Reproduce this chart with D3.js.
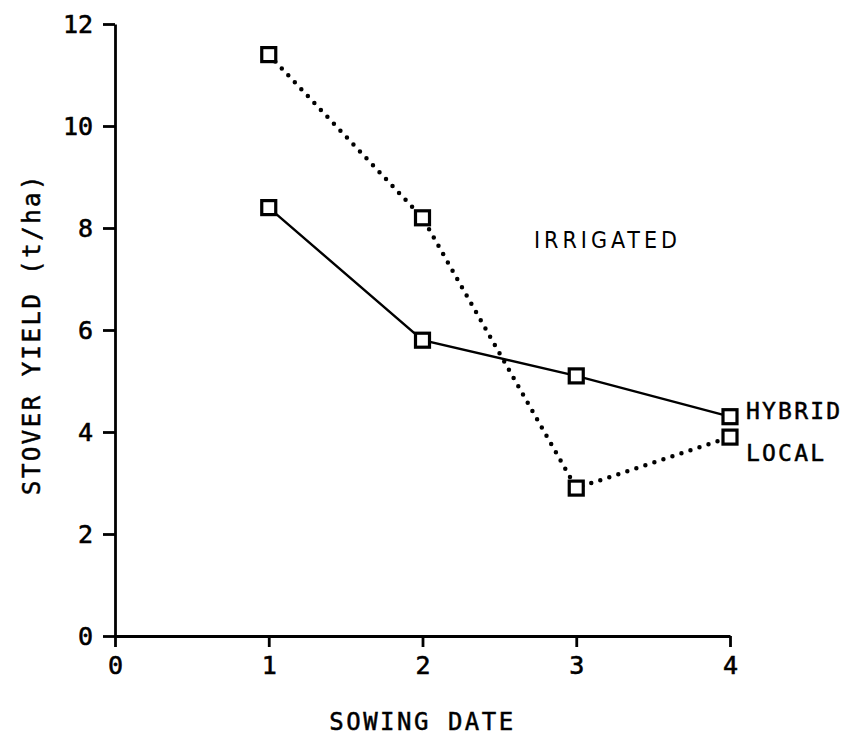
<!DOCTYPE html>
<html>
<head>
<meta charset="utf-8">
<script src="https://cdn.jsdelivr.net/npm/d3@7"></script>
<style>
  html, body { margin: 0; padding: 0; background: #fff; }
  svg text { font-family: "DejaVu Sans Mono", monospace; fill: #000; }
</style>
</head>
<body>
<svg id="chart" width="855" height="739"></svg>
<script>
// Sowing dates and stover yield (t/ha) under irrigation
const sowingDates = [1, 2, 3, 4];
const hybridYield = [8.4, 5.8, 5.1, 4.3];
const localYield  = [11.4, 8.2, 2.9, 3.9];
const xTicks = [0, 1, 2, 3, 4];
const yTicks = [0, 2, 4, 6, 8, 10, 12];

const svg = d3.select("#chart");
const x = d3.scaleLinear().domain([0, 4]).range([115, 730]);
const y = d3.scaleLinear().domain([0, 12]).range([636, 24]);

// axes
const yAxis = svg.append("g")
  .attr("transform", `translate(${x(0)},0)`)
  .call(d3.axisLeft(y).tickValues(yTicks).tickFormat(d3.format("d"))
    .tickSize(12).tickSizeOuter(0).tickPadding(10));
const xAxis = svg.append("g")
  .attr("transform", `translate(0,${y(0)})`)
  .call(d3.axisBottom(x).tickValues(xTicks).tickFormat(d3.format("d"))
    .tickSize(11).tickSizeOuter(0).tickPadding(6));

[yAxis, xAxis].forEach(g => {
  g.select(".domain").attr("stroke", "#000").attr("stroke-width", 2.8);
  g.selectAll(".tick line").attr("stroke", "#000").attr("stroke-width", 2.8);
  g.selectAll(".tick text")
    .style("font-family", "'DejaVu Sans Mono', monospace")
    .style("font-size", "25px")
    .attr("fill", "#000")
    .attr("stroke", "#000").attr("stroke-width", 0.6);
});
xAxis.selectAll(".tick text").attr("dy", "0.85em");

// axis titles
svg.append("text")
  .attr("x", x(2)).attr("y", 730)
  .attr("text-anchor", "middle")
  .style("font-size", "24px").style("letter-spacing", "2.5px")
  .attr("stroke", "#000").attr("stroke-width", 0.5)
  .text("SOWING DATE");

svg.append("text")
  .attr("transform", `translate(40,${334}) rotate(-90)`)
  .attr("text-anchor", "middle")
  .style("font-size", "24px").style("letter-spacing", "2.5px")
  .attr("stroke", "#000").attr("stroke-width", 0.5)
  .text("STOVER YIELD (t/ha)");

// series lines
const line = d3.line().x((d, i) => x(sowingDates[i])).y(d => y(d));

svg.append("path")
  .datum(hybridYield)
  .attr("d", line)
  .attr("fill", "none").attr("stroke", "#000").attr("stroke-width", 2.4);

svg.append("path")
  .datum(localYield)
  .attr("d", line)
  .attr("fill", "none").attr("stroke", "#000").attr("stroke-width", 4.5)
  .attr("stroke-linecap", "round").attr("stroke-dasharray", "0 9.5");

// square markers
const markerSize = 14;
[hybridYield, localYield].forEach(series => {
  svg.append("g").selectAll("rect")
    .data(series)
    .join("rect")
    .attr("x", (d, i) => x(sowingDates[i]) - markerSize / 2)
    .attr("y", d => y(d) - markerSize / 2)
    .attr("width", markerSize).attr("height", markerSize)
    .attr("fill", "#fff").attr("stroke", "#000").attr("stroke-width", 3.2);
});

// series labels
svg.append("text")
  .attr("x", 746).attr("y", y(hybridYield[3]) + 2)
  .style("font-size", "23px").style("letter-spacing", "2.2px")
  .attr("stroke", "#000").attr("stroke-width", 0.5)
  .text("HYBRID");
svg.append("text")
  .attr("x", 746).attr("y", y(localYield[3]) + 24)
  .style("font-size", "23px").style("letter-spacing", "2.2px")
  .attr("stroke", "#000").attr("stroke-width", 0.5)
  .text("LOCAL");

svg.append("text")
  .attr("x", 534).attr("y", 248)
  .style("font-family", "'Liberation Sans Narrow', 'DejaVu Sans Condensed', sans-serif")
  .style("font-size", "23px").style("letter-spacing", "4px")
  .text("IRRIGATED");
</script>
</body>
</html>
